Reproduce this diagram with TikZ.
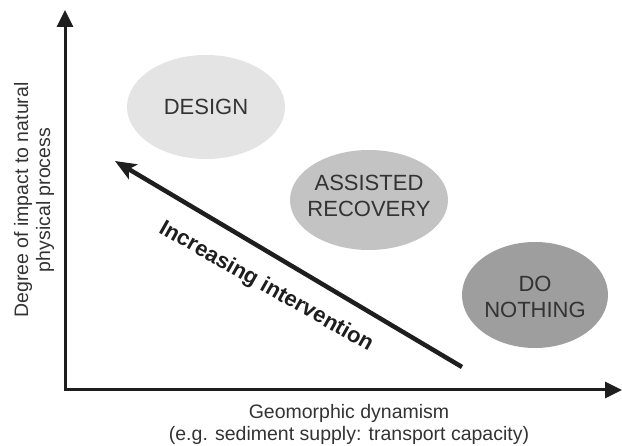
\documentclass[tikz,border=0pt]{standalone}
\usepackage{fontspec}
\setmainfont{Liberation Sans}
\usetikzlibrary{arrows.meta,shapes.geometric}
\definecolor{txt}{HTML}{333333}
\definecolor{fillA}{HTML}{E4E4E4}
\definecolor{fillB}{HTML}{C3C3C3}
\definecolor{fillC}{HTML}{9E9E9E}
\definecolor{ink}{HTML}{1E1E1E}
\begin{document}
\begin{tikzpicture}[x=1pt,y=-1pt,
  blob/.style={ellipse, draw=none, inner sep=0pt},
  blobtext/.style={inner sep=0pt, align=center, text=txt, font=\fontsize{22}{26.7}\selectfont},
  axisline/.style={line width=3pt, draw=ink, line join=miter, {Triangle[length=17pt,width=16pt]}-{Triangle[length=17pt,width=16pt]}},
  bigarrow/.style={line width=4.5pt, draw=ink, -{Stealth[length=21pt,width=17pt,inset=5pt]}},
  lab/.style={text=txt, font=\fontsize{19.5}{22}\selectfont, align=center, inner sep=0pt},
  arrowlab/.style={text=ink, font=\fontsize{22}{26}\selectfont\bfseries, inner sep=0pt}]
\path[use as bounding box] (0,0) rectangle (622,446);

% axes
\coordinate (ytip) at (65,10);
\coordinate (origin) at (65,390);
\coordinate (xtip) at (622,390);
\draw[axisline] (ytip) -- (origin) -- (xtip);

% ellipses
\node[blob, fill=fillA, minimum width=158pt, minimum height=104pt] (design) at (206,107) {};
\node[blob, fill=fillB, minimum width=158pt, minimum height=100pt] (assisted) at (369,200) {};
\node[blob, fill=fillC, minimum width=146pt, minimum height=106pt] (nothing) at (535,295) {};
\node[blobtext] (designtext) at (design.center) {DESIGN};
\node[blobtext] (assistedtext) at ([yshift=4pt]assisted.center) {ASSISTED\\RECOVERY};
\node[blobtext] (nothingtext) at ([yshift=-2pt]nothing.center) {DO\\NOTHING};

% intervention arrow
\coordinate (arrtail) at (462,367);
\coordinate (arrhead) at (115,161);
\draw[bigarrow] (arrtail) -- (arrhead);
\node[arrowlab, rotate=-29.5] (intervention) at (266,287) {Increasing intervention};

% axis labels
\node[lab, rotate=90] (ylab) at (34,200) {Degree of impact to natural\\physical process};
\node[lab, anchor=north] (xlab) at (349,404) {Geomorphic dynamism\\(e.g. sediment supply: transport capacity)};
\end{tikzpicture}
\end{document}
